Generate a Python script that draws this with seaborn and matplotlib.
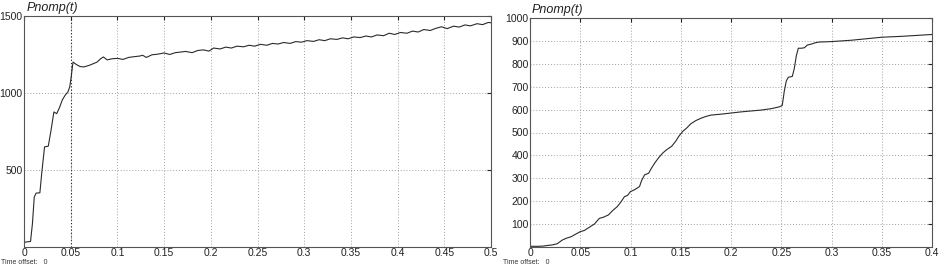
import numpy as np
import pandas as pd
import seaborn as sns
import matplotlib.pyplot as plt

# left scope: Pnomp(t), 0..0.5 s
t_left = [0.0, 0.004, 0.007, 0.009, 0.011, 0.013, 0.017, 0.019, 0.022, 0.026, 0.029,
          0.032, 0.035, 0.038, 0.041, 0.044, 0.047, 0.049, 0.0505, 0.0525, 0.056, 0.060,
          0.064, 0.070, 0.074, 0.078, 0.082, 0.085, 0.089, 0.094, 0.100, 0.106, 0.112,
          0.118, 0.124, 0.127, 0.131, 0.137, 0.143, 0.150, 0.156, 0.162, 0.168, 0.173,
          0.180, 0.186, 0.192, 0.198, 0.203, 0.210, 0.216, 0.222, 0.228, 0.235, 0.241,
          0.247, 0.253, 0.260, 0.266, 0.272, 0.278, 0.285, 0.291, 0.297, 0.303, 0.310,
          0.316, 0.322, 0.328, 0.335, 0.341, 0.347, 0.353, 0.360, 0.366, 0.372, 0.378,
          0.385, 0.391, 0.397, 0.403, 0.410, 0.416, 0.422, 0.428, 0.435, 0.441, 0.447,
          0.453, 0.460, 0.466, 0.472, 0.478, 0.485, 0.491, 0.497, 0.500]
p_left = [30, 34, 36, 150, 325, 350, 352, 480, 650, 655, 760,
          877, 866, 905, 955, 985, 1007, 1040, 1104, 1201, 1185, 1172,
          1169, 1180, 1190, 1200, 1222, 1234, 1215, 1222, 1225, 1218, 1231,
          1236, 1240, 1245, 1231, 1248, 1252, 1260, 1250, 1262, 1266, 1270,
          1262, 1276, 1280, 1272, 1292, 1286, 1298, 1292, 1304, 1300, 1310,
          1304, 1316, 1310, 1322, 1318, 1328, 1322, 1334, 1330, 1340, 1335,
          1346, 1340, 1352, 1348, 1358, 1352, 1364, 1360, 1370, 1364, 1377,
          1372, 1388, 1380, 1393, 1388, 1402, 1396, 1412, 1406, 1420, 1430,
          1418, 1434, 1428, 1442, 1436, 1450, 1444, 1458, 1456]

# right scope: Pnomp(t), 0..0.4 s
t_right = [0.0, 0.008, 0.013, 0.018, 0.022, 0.027, 0.032, 0.036, 0.041, 0.045, 0.050,
           0.054, 0.060, 0.064, 0.069, 0.073, 0.078, 0.082, 0.087, 0.091, 0.094, 0.097,
           0.100, 0.104, 0.109, 0.111, 0.114, 0.118, 0.121, 0.124, 0.128, 0.132, 0.136,
           0.141, 0.145, 0.148, 0.152, 0.156, 0.160, 0.165, 0.170, 0.175, 0.180, 0.190,
           0.200, 0.210, 0.220, 0.230, 0.240, 0.248, 0.251, 0.253, 0.255, 0.257, 0.261,
           0.263, 0.265, 0.267, 0.270, 0.273, 0.276, 0.280, 0.284, 0.288, 0.300, 0.320,
           0.350, 0.370, 0.400]
p_right = [3, 3, 4, 7, 9, 14, 30, 38, 45, 55, 67,
           72, 89, 100, 125, 130, 140, 158, 177, 200, 220, 225,
           242, 250, 264, 290, 315, 322, 345, 366, 390, 410, 425,
           440, 462, 483, 505, 520, 538, 552, 562, 570, 576, 580,
           585, 590, 594, 598, 604, 612, 618, 680, 725, 741, 745,
           780, 835, 868, 868, 870, 882, 886, 892, 895, 897, 903,
           916, 920, 928]

x_ticks_left = [0, 0.05, 0.1, 0.15, 0.2, 0.25, 0.3, 0.35, 0.4, 0.45, 0.5]
x_labels_left = ["0", "0.05", "0.1", "0.15", "0.2", "0.25", "0.3", "0.35", "0.4", "0.45", "0.5"]
y_ticks_left = [500, 1000, 1500]
x_ticks_right = [0, 0.05, 0.1, 0.15, 0.2, 0.25, 0.3, 0.35, 0.4]
x_labels_right = ["0", "0.05", "0.1", "0.15", "0.2", "0.25", "0.3", "0.35", "0.4"]
y_ticks_right = [100, 200, 300, 400, 500, 600, 700, 800, 900, 1000]

sns.set_style("white")
plt.rcParams['font.family'] = ['Liberation Sans', 'DejaVu Sans']

fig = plt.figure(figsize=(9.49, 2.72), dpi=100)
ax1 = fig.add_axes([24 / 949, 1 - 247 / 272, 467 / 949, 231 / 272])
ax2 = fig.add_axes([530 / 949, 1 - 247 / 272, 402 / 949, 229 / 272])

left = pd.DataFrame({"t": t_left, "P": p_left})
right = pd.DataFrame({"t": t_right, "P": p_right})

sns.lineplot(data=left, x="t", y="P", ax=ax1, color="#2b2b2b", linewidth=0.8)
sns.lineplot(data=right, x="t", y="P", ax=ax2, color="#2b2b2b", linewidth=0.8)

panels = [(ax1, x_ticks_left, x_labels_left, y_ticks_left, (0, 0.5), (0, 1500)),
          (ax2, x_ticks_right, x_labels_right, y_ticks_right, (0, 0.4), (0, 1000))]
for ax, xt, xl, yt, xlim, ylim in panels:
    ax.set_xlim(*xlim)
    ax.set_ylim(*ylim)
    ax.set_xticks(xt)
    ax.set_xticklabels(xl)
    ax.set_yticks(yt)
    ax.set_xlabel("")
    ax.set_ylabel("")
    ax.grid(True, linestyle=(0, (1, 2)), color="#a0a0a0", linewidth=0.7)
    ax.tick_params(axis="both", labelsize=7.5, length=3, direction="in", pad=1,
                   top=True, right=True, colors="#222222")
    for s in ax.spines.values():
        s.set_color("#555555")
        s.set_linewidth(0.8)
    ax.text(0.005, 1.01, "Pnomp(t)", transform=ax.transAxes, fontsize=9,
            fontstyle="italic", ha="left", va="bottom", color="#222222")

fig.text(1 / 949, 1 - 262 / 272, "Time offset:   0", fontsize=5,
         ha="left", va="center", color="#333333")
fig.text(503 / 949, 1 - 262 / 272, "Time offset:   0", fontsize=5,
         ha="left", va="center", color="#333333")

ax1.axvline(0.05, color="#222222", linestyle=(0, (1, 2)), linewidth=0.8)

fig.savefig("out.png", dpi=100)
